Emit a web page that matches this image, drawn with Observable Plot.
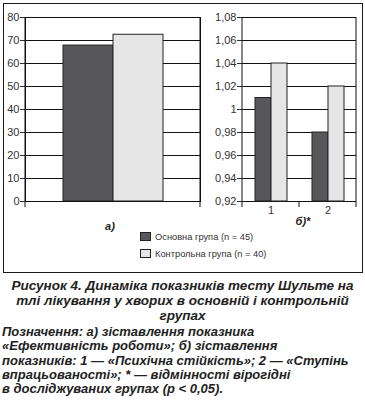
<!DOCTYPE html>
<html>
<head>
<meta charset="utf-8">
<script src="https://cdn.jsdelivr.net/npm/d3@7"></script>
<script src="https://cdn.jsdelivr.net/npm/@observablehq/plot@0.6"></script>
<style>
  html, body { margin: 0; padding: 0; background: #fff; }
  body { font-family: "Liberation Sans", Arial, sans-serif; color: #222; }
  #wrap { position: relative; width: 365px; height: 405px; overflow: hidden; }
  #frame { position: absolute; left: 3px; top: 3px; width: 360px; height: 270px; box-sizing: border-box; border: 1.5px solid #1a1a1a; }
  .plot { position: absolute; top: 0; }
  .panel-label { position: absolute; font-weight: bold; font-style: italic; font-size: 11px; color: #222; transform: translate(-50%, -50%); white-space: nowrap; }
  #legend { position: absolute; left: 140px; top: 228px; font-size: 9.3px; color: #333; }
  .lg-row { display: flex; align-items: center; height: 17px; }
  .lg-box { width: 11px; height: 9px; border: 1px solid #222; margin-right: 4px; box-sizing: border-box; }
  #caption { position: absolute; left: 0; top: 279px; width: 365px; text-align: center; font-weight: bold; font-style: italic; font-size: 13.5px; line-height: 14.8px; color: #222; white-space: nowrap; }
  #notes { position: absolute; left: 2px; top: 325px; width: 363px; text-align: left; font-weight: bold; font-style: italic; font-size: 13px; line-height: 14.3px; color: #222; white-space: nowrap; }
</style>
</head>
<body>
<div id="wrap">
  <div id="frame"></div>
  <div id="plotA" class="plot" style="left:0px"></div>
  <div id="plotB" class="plot" style="left:200px"></div>
  <div id="legend"></div>
  <div id="caption"></div>
  <div id="notes"></div>
</div>
<script>
// ---- data ----
const seriesNames = ["Основна група (n = 45)", "Контрольна група (n = 40)"];
const seriesColors = ["#58585a", "#e6e6e6"];
// panel a) "Ефективність роботи"
const valuesA = [67.8, 72.5];
const yTicksA = [0, 10, 20, 30, 40, 50, 60, 70, 80];
// panel b) groups 1, 2
const groupsB = ["1", "2"];
const valuesBMain = [1.01, 0.98];
const valuesBControl = [1.04, 1.02];
const yTicksB = [0.92, 0.94, 0.96, 0.98, 1.00, 1.02, 1.04, 1.06, 1.08];
const panelLabels = ["а)", "б)*"];
const captionLines = [
  "Рисунок 4. Динаміка показників тесту Шульте на",
  "тлі лікування у хворих в основній і контрольній",
  "групах"
];
const noteLines = [
  "Позначення: а) зіставлення показника",
  "«Ефективність роботи»; б) зіставлення",
  "показників: 1 — «Психічна стійкість»; 2 — «Ступінь",
  "впрацьованості»; * — відмінності вірогідні",
  "в досліджуваних групах (p < 0,05)."
];

// ---- tables ----
const rowsA = seriesNames.map((s, i) => ({series: s, value: valuesA[i]}));
const rowsB = [];
groupsB.forEach((g, i) => {
  rowsB.push({group: g, series: seriesNames[0], value: valuesBMain[i]});
  rowsB.push({group: g, series: seriesNames[1], value: valuesBControl[i]});
});

const fmtComma = d => String(+d.toFixed(2)).replace(".", ",");
const axisStyle = {background: "transparent", color: "#333", fontSize: "11px", fontFamily: "Liberation Sans, Arial, sans-serif", overflow: "visible"};

// ---- panel a ----
const A = {width: 205, height: 215, ml: 25, mr: 5, mt: 17, mb: 14};
const plotA = Plot.plot({
  width: A.width, height: A.height,
  marginLeft: A.ml, marginRight: A.mr, marginTop: A.mt, marginBottom: A.mb,
  style: axisStyle,
  x: {domain: seriesNames, paddingInner: 0, paddingOuter: 0.73, axis: null},
  y: {domain: [0, 80], ticks: yTicksA, tickSize: 5, tickPadding: 1, label: null, tickFormat: d => String(d)},
  color: {domain: seriesNames, range: seriesColors},
  marks: [
    Plot.ruleY(yTicksA, {stroke: "#111", strokeWidth: 1}),
    Plot.barY(rowsA, {x: "series", y: "value", fill: "series", stroke: "#222", strokeWidth: 1}),
    Plot.frame({stroke: "#111"})
  ]
});
document.getElementById("plotA").appendChild(plotA);

// ---- panel b ----
const B = {width: 160, height: 225, ml: 42, mr: 4, mt: 17, mb: 24};
const plotB = Plot.plot({
  width: B.width, height: B.height,
  marginLeft: B.ml, marginRight: B.mr, marginTop: B.mt, marginBottom: B.mb,
  style: axisStyle,
  facet: {data: rowsB, x: "group"},
  fx: {domain: groupsB, paddingInner: 0, paddingOuter: 0, axis: "bottom", tickSize: 0, tickPadding: 5, label: null},
  x: {domain: seriesNames, paddingInner: 0, paddingOuter: 0.73, axis: null},
  y: {domain: [yTicksB[0], yTicksB[yTicksB.length - 1]], ticks: yTicksB, tickSize: 5, tickPadding: 1, label: null, tickFormat: fmtComma},
  color: {domain: seriesNames, range: seriesColors},
  marks: [
    Plot.ruleY(yTicksB, {stroke: "#111", strokeWidth: 1}),
    Plot.barY(rowsB, {x: "series", y1: () => yTicksB[0], y2: "value", fill: "series", stroke: "#222", strokeWidth: 1})
  ]
});
document.getElementById("plotB").appendChild(plotB);

// ---- axis lines and category boundary ticks (Excel style) ----
function boundaryLines(svgEl, cfg, nCats, fullLeft, fullRight) {
  const svg = d3.select(svgEl);
  const x0 = cfg.ml, x1 = cfg.width - cfg.mr;
  const yTop = cfg.mt, yBot = cfg.height - cfg.mb;
  const g = svg.append("g").attr("stroke", "#111").attr("stroke-width", 1);
  for (let k = 0; k <= nCats; k++) {
    const x = x0 + (x1 - x0) * k / nCats;
    const full = (k === 0 && fullLeft) || (k === nCats && fullRight);
    g.append("line").attr("x1", x).attr("x2", x)
      .attr("y1", full ? yTop : yBot).attr("y2", yBot + 6);
  }
}
boundaryLines(plotA, A, 1, true, true);
boundaryLines(plotB, B, groupsB.length, true, true);

// ---- panel labels ----
const wrap = document.getElementById("wrap");
[[110, 226], [303, 221]].forEach(([x, y], i) => {
  const el = document.createElement("div");
  el.className = "panel-label";
  el.style.left = x + "px"; el.style.top = y + "px";
  el.textContent = panelLabels[i];
  wrap.appendChild(el);
});

// ---- legend ----
const legend = document.getElementById("legend");
seriesNames.forEach((s, i) => {
  const row = document.createElement("div");
  row.className = "lg-row";
  const box = document.createElement("div");
  box.className = "lg-box";
  box.style.background = seriesColors[i];
  const t = document.createElement("span");
  t.textContent = s;
  row.appendChild(box); row.appendChild(t);
  legend.appendChild(row);
});

// ---- caption and notes ----
const esc = l => l.replace(/&/g,"&amp;").replace(/</g,"&lt;");
document.getElementById("caption").innerHTML = captionLines.map(esc).join("<br>");
document.getElementById("notes").innerHTML = noteLines.map(esc).join("<br>");
</script>
</body>
</html>
